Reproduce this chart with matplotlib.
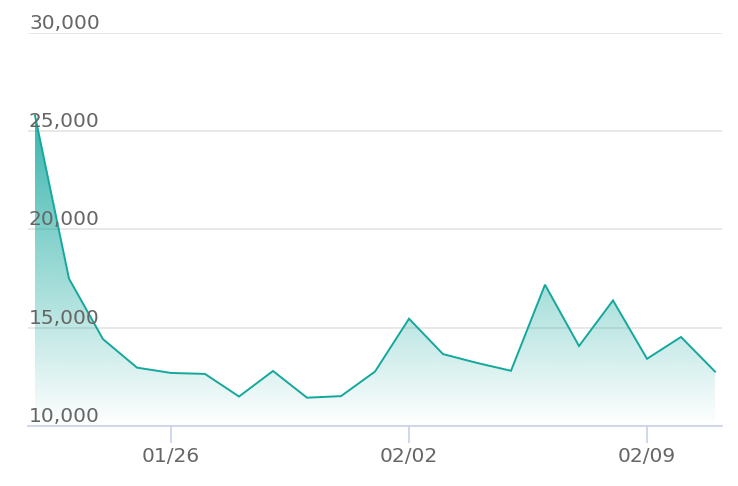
import numpy as np
import matplotlib
matplotlib.use("Agg")
import matplotlib.pyplot as plt
import matplotlib.transforms as mtransforms
from matplotlib.colors import to_rgb

# ---- data ----
dates = ["01/22", "01/23", "01/24", "01/25", "01/26", "01/27", "01/28",
         "01/29", "01/30", "01/31", "02/01", "02/02", "02/03", "02/04",
         "02/05", "02/06", "02/07", "02/08", "02/09", "02/10", "02/11"]
values = [25800, 17500, 14420, 12970, 12700, 12650, 11500,
          12800, 11440, 11520, 12770, 15460, 13660, 13210,
          12810, 17190, 14070, 16390, 13420, 14530, 12770]
xtick_labels = ["01/26", "02/02", "02/09"]
ytick_values = [10000, 15000, 20000, 25000, 30000]

line_color = "#14a89d"
text_color = "#666666"
grid_color = "#e6e6e6"
axis_color = "#ccd6eb"

W, H = 738, 486
fig = plt.figure(figsize=(W / 100, H / 100), dpi=100)
left, right, top, bottom = 28, 722, 33, 426
ax = fig.add_axes([left / W, 1 - bottom / H, (right - left) / W, (bottom - top) / H])

x = np.arange(len(dates))
y = np.array(values, dtype=float)
ymin, ymax = 10000, 30000

# gradient fill
poly = ax.fill_between(x, y, ymin, facecolor="none", edgecolor="none")
r, g, b = to_rgb(line_color)
n = 256
alpha = np.linspace(0.85, 0.0, n).reshape(-1, 1)
grad = np.zeros((n, 1, 4))
grad[..., 0] = r
grad[..., 1] = g
grad[..., 2] = b
grad[..., 3] = alpha
im = ax.imshow(grad, aspect="auto", extent=[x[0], x[-1], ymin, y.max()],
               origin="upper", zorder=1, interpolation="bilinear")
clip = poly.get_paths()[0]
im.set_clip_path(clip, transform=ax.transData)

ax.plot(x, y, color=line_color, lw=1.4, zorder=3, solid_joinstyle="miter")

pxday = 34.0
ax.set_xlim(-(35 - left) / pxday, len(dates) - 1 + (right - 715) / pxday)
ax.set_ylim(ymin, ymax)

# grid
ax.set_yticks(ytick_values)
ax.yaxis.grid(True, color=grid_color, lw=1.3)
ax.set_axisbelow(True)
ax.tick_params(axis="y", length=0, labelleft=False)
trans = mtransforms.offset_copy(
    mtransforms.blended_transform_factory(ax.transAxes, ax.transData),
    fig=fig, x=1, y=4, units="dots")
for v in ytick_values:
    ax.text(0, v, f"{v:,}", transform=trans, ha="left", va="baseline",
            fontsize=14.5, color=text_color, family="DejaVu Sans")

# x ticks
xt = [dates.index(d) for d in xtick_labels]
ax.set_xticks(xt)
ax.set_xticklabels(xtick_labels, fontsize=14.5, color=text_color)
ax.tick_params(axis="x", length=12.5, width=1.3, color=axis_color, pad=2.5)

for s in ["top", "right", "left"]:
    ax.spines[s].set_visible(False)
ax.spines["bottom"].set_color(axis_color)
ax.spines["bottom"].set_linewidth(1.3)
ax.spines["bottom"].set_zorder(4)

fig.savefig("out.png", dpi=100)
